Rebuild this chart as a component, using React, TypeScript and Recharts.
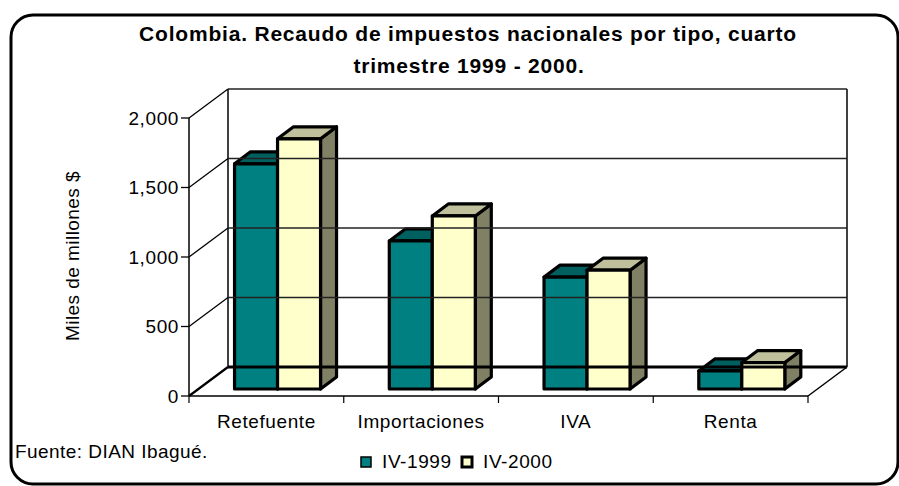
import { BarChart, Bar, XAxis, YAxis, ReferenceLine, ReferenceArea } from 'recharts'

const categories = ['Retefuente', 'Importaciones', 'IVA', 'Renta']
const iv1999 = [1620, 1065, 805, 130]
const iv2000 = [1800, 1245, 855, 190]
const yTicks = [0, 500, 1000, 1500, 2000]

const data = categories.map((name, i) => ({ name, iv1999: iv1999[i], iv2000: iv2000[i] }))

const series = [
  { key: 'iv1999', name: 'IV-1999', face: '#008080', top: '#006060', side: '#004848', legendStroke: 1.5 },
  { key: 'iv2000', name: 'IV-2000', face: '#FFFFCC', top: '#C0C09C', side: '#808064', legendStroke: 3 },
]

const FONT = '"Liberation Sans", Arial, sans-serif'
const W = 899
const H = 486
const PLOT_W = 619
const BAND = PLOT_W / categories.length

// back wall offset of the 3d box, position of the bar row inside it, and bar depth
const DX = 39
const DY = 29
const BAR_OX = 11.5
const BAR_OY = 7
const BOX_X = 16
const BOX_Y = 12

function box3d(top: string, side: string) {
  return (p: any) => {
    const { x, y, width: w, height: h, fill } = p
    if (w == null || h == null || isNaN(y)) return <g />
    const fx = x + BAR_OX
    const fy = y - BAR_OY
    return (
      <g stroke="#000" strokeWidth={3.2} strokeLinejoin="round">
        <polygon
          points={`${fx + w},${fy} ${fx + w + BOX_X},${fy - BOX_Y} ${fx + w + BOX_X},${fy + h - BOX_Y} ${fx + w},${fy + h}`}
          fill={side}
        />
        <polygon
          points={`${fx},${fy} ${fx + BOX_X},${fy - BOX_Y} ${fx + w + BOX_X},${fy - BOX_Y} ${fx + w},${fy}`}
          fill={top}
        />
        <rect x={fx} y={fy} width={w} height={h} fill={fill} />
      </g>
    )
  }
}

// one gridline: across the left wall, then along the back wall
const wallLine = (zero: boolean) => (p: any) => {
  const { x1, y1, x2 } = p
  return (
    <g fill="none" stroke="#000">
      <path d={`M${x1},${y1} L${x1 + DX},${y1 - DY}`} strokeWidth={zero ? 2.2 : 1.3} />
      <path d={`M${x1 + DX},${y1 - DY} L${x2 + DX},${y1 - DY}`} strokeWidth={zero ? 3 : 1.3} stroke={zero ? '#000' : '#222'} />
      {zero && <path d={`M${x2},${y1} L${x2 + DX},${y1 - DY}`} strokeWidth={1.5} />}
    </g>
  )
}

const backEdges = (p: any) => {
  const { x, y, width, height } = p
  return (
    <g stroke="#000" strokeWidth={1.5} fill="none">
      <line x1={x + DX} y1={y - DY} x2={x + DX} y2={y + height - DY} />
      <line x1={x + width + DX} y1={y - DY} x2={x + width + DX} y2={y + height - DY} />
    </g>
  )
}

function CatTick(p: any) {
  const { x, y, payload, index } = p
  const half = BAND / 2
  return (
    <g>
      <line x1={x - half} y1={y} x2={x - half} y2={y + 7} stroke="#000" strokeWidth={1.2} />
      {index === categories.length - 1 && (
        <line x1={x + half} y1={y} x2={x + half} y2={y + 7} stroke="#000" strokeWidth={1.2} />
      )}
      <text x={x} y={y + 32} textAnchor="middle" fontSize={19} fontFamily={FONT} letterSpacing={0.6} fill="#000">
        {payload.value}
      </text>
    </g>
  )
}

export default function App() {
  return (
    <div style={{ position: 'absolute', left: 0, top: 0, width: W, height: H, background: '#fff' }}>
      <BarChart
        width={W}
        height={H}
        data={data}
        margin={{ top: 118, right: 91, bottom: 50, left: 129 }}
        barCategoryGap="22%"
        barGap={0}
      >
        <ReferenceArea y1={yTicks[0]} y2={yTicks[yTicks.length - 1]} shape={backEdges} />
        {yTicks.map((v) => (
          <ReferenceLine key={v} y={v} shape={wallLine(v === 0)} />
        ))}
        <XAxis
          dataKey="name"
          height={40}
          interval={0}
          tickLine={false}
          tickSize={0}
          tickMargin={0}
          axisLine={{ stroke: '#000', strokeWidth: 1.3 }}
          tick={<CatTick />}
        />
        <YAxis
          width={60}
          domain={[0, 2000]}
          ticks={yTicks}
          tickSize={8}
          tickFormatter={(v: number) => v.toLocaleString('en-US')}
          axisLine={{ stroke: '#000', strokeWidth: 1.5 }}
          tickLine={{ stroke: '#000', strokeWidth: 1.3 }}
          tick={{ fill: '#000', fontSize: 19, fontFamily: FONT, letterSpacing: 0.6 }}
        />
        {series.map((s) => (
          <Bar
            key={s.key}
            dataKey={s.key}
            name={s.name}
            fill={s.face}
            shape={box3d(s.top, s.side)}
            isAnimationActive={false}
          />
        ))}
      </BarChart>
      <svg
        width={W}
        height={H}
        style={{ position: 'absolute', left: 0, top: 0, pointerEvents: 'none' }}
        fontFamily={FONT}
      >
        <rect x={11} y={15} width={887} height={469} rx={22} fill="none" stroke="#000" strokeWidth={3} />
        <text x={468} y={40.5} textAnchor="middle" fontSize={21} fontWeight="bold" letterSpacing={0.8}>
          Colombia. Recaudo de impuestos nacionales por tipo, cuarto
        </text>
        <text x={469} y={72.5} textAnchor="middle" fontSize={21} fontWeight="bold" letterSpacing={0.8}>
          trimestre 1999 - 2000.
        </text>
        <text transform="translate(79,256) rotate(-90)" textAnchor="middle" fontSize={19} letterSpacing={0.45}>
          Miles de millones $
        </text>
        <text x={15} y={458} fontSize={19} letterSpacing={0.45}>
          Fuente: DIAN Ibagué.
        </text>
        {series.map((s, i) => {
          const lx = 361 + i * 101
          return (
            <g key={s.key}>
              <rect x={lx} y={457} width={10} height={10} fill={s.face} stroke="#000" strokeWidth={s.legendStroke} />
              <text x={lx + 21} y={468} fontSize={19} letterSpacing={0.6}>
                {s.name}
              </text>
            </g>
          )
        })}
      </svg>
    </div>
  )
}
